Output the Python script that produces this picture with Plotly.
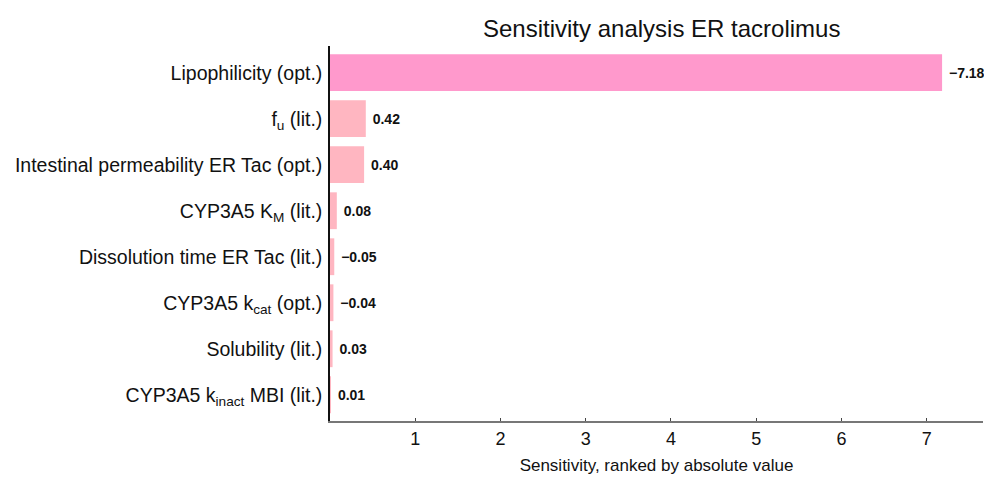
import plotly.graph_objects as go

# Parameters ranked by absolute sensitivity
parameters = [
    "Lipophilicity (opt.)",
    "f<sub>u</sub> (lit.)",
    "Intestinal permeability ER Tac (opt.)",
    "CYP3A5 K<sub>M</sub> (lit.)",
    "Dissolution time ER Tac (lit.)",
    "CYP3A5 k<sub>cat</sub> (opt.)",
    "Solubility (lit.)",
    "CYP3A5 k<sub>inact</sub> MBI (lit.)",
]
sensitivity = [-7.18, 0.42, 0.40, 0.08, -0.05, -0.04, 0.03, 0.01]
bar_colors = ["#FF99CC", "#FFB6C1", "#FFB6C1", "#FFB6C1",
              "#FFB6C1", "#FFB6C1", "#FFB6C1", "#FFB6C1"]
x_ticks = [1, 2, 3, 4, 5, 6, 7]

abs_sensitivity = [abs(v) for v in sensitivity]
# signed value labels with a true minus sign
value_labels = [" " + f"{v:.2f}".replace("-", "\u2212") for v in sensitivity]

fig = go.Figure(
    go.Bar(
        x=abs_sensitivity,
        y=parameters,
        orientation="h",
        width=0.8,
        marker=dict(color=bar_colors, line=dict(width=0)),
        text=value_labels,
        textposition="outside",
        textfont=dict(family="Liberation Sans", size=14, color="#111111", weight="bold"),
        constraintext="none",
        cliponaxis=False,
        hoverinfo="skip",
    )
)

fig.update_layout(
    width=984,
    height=482,
    margin=dict(l=330, r=1, t=46, b=61),
    plot_bgcolor="white",
    paper_bgcolor="white",
    font=dict(family="Liberation Sans", size=19, color="#111111"),
    showlegend=False,
    bargap=0.2,
    title=dict(
        text="Sensitivity analysis ER tacrolimus",
        font=dict(size=24, color="#111111"),
        x=0.508,
        xref="paper",
        xanchor="center",
        y=0.94,
        yref="container",
        yanchor="middle",
    ),
)

fig.update_xaxes(
    range=[0, 7.66],
    tickvals=x_ticks,
    ticks="inside",
    ticklen=3,
    tickcolor="#444444",
    showline=True,
    linecolor="#777777",
    linewidth=2,
    showgrid=False,
    zeroline=False,
    tickfont=dict(size=18),
    title=dict(text="Sensitivity, ranked by absolute value", font=dict(size=17), standoff=12),
)

fig.update_yaxes(
    range=[7.57, -0.58],
    showline=True,
    linecolor="#111111",
    linewidth=1.5,
    showgrid=False,
    zeroline=False,
    ticks="",
    ticklabelstandoff=2,
    tickfont=dict(size=19.5),
)

fig.write_html("out.html")
